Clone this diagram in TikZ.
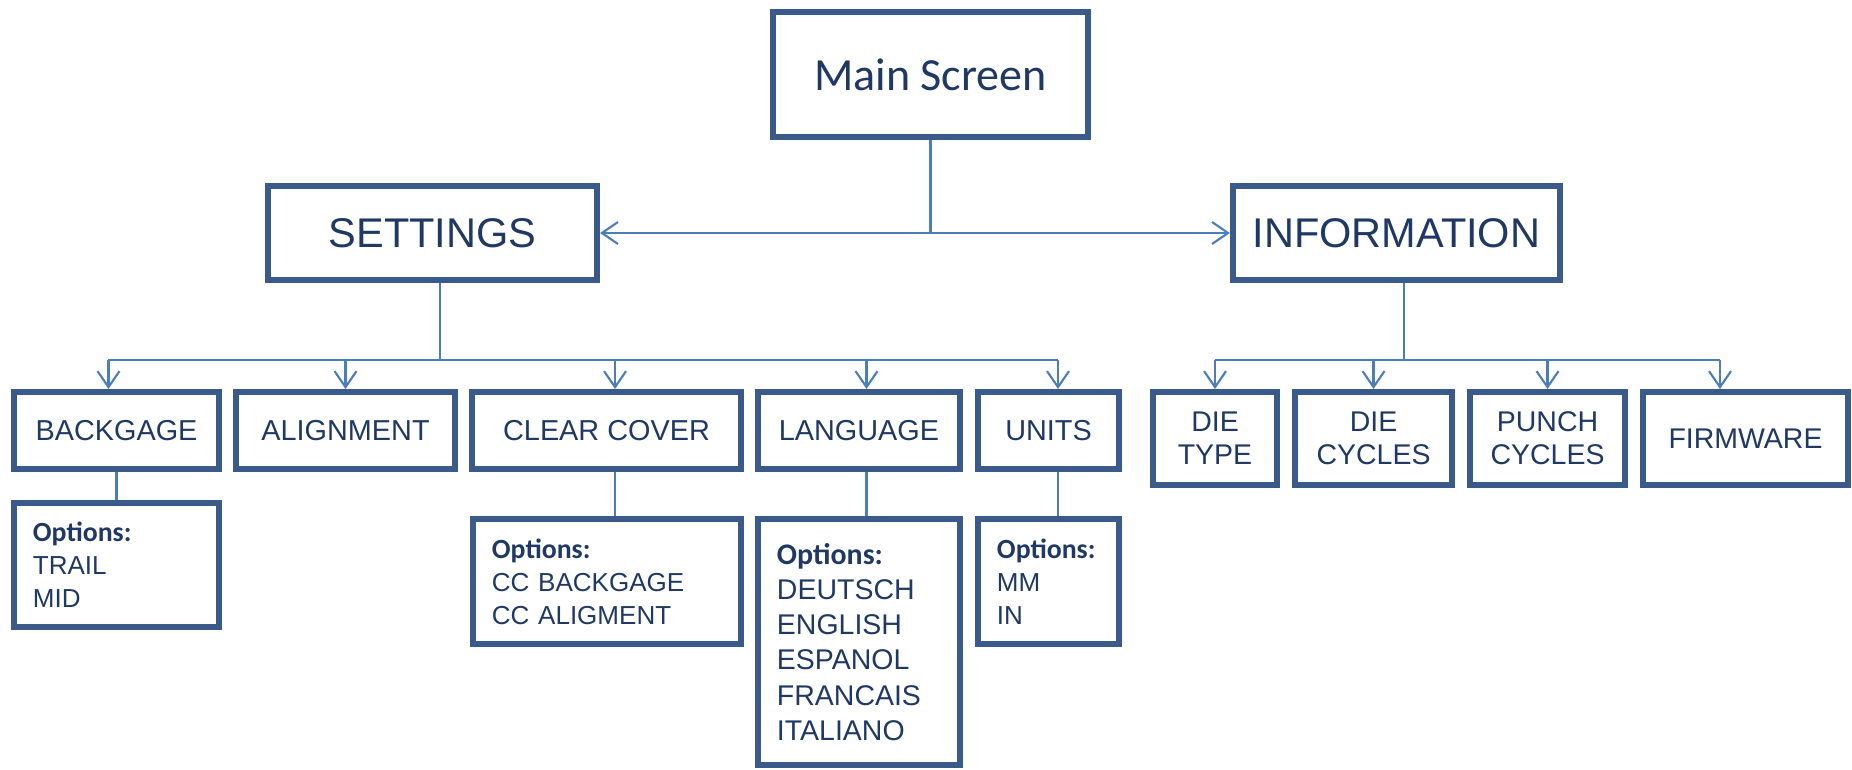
\documentclass[tikz,border=0pt]{standalone}
\usepackage{fontspec}
\setmainfont{Liberation Sans}
\newfontfamily\calibri{Carlito}
\usetikzlibrary{arrows.meta}

\definecolor{boxblue}{RGB}{58,90,138}
\definecolor{inkblue}{RGB}{31,56,100}
\definecolor{lineblue}{RGB}{74,126,187}

\tikzset{
  menu/.style={draw=boxblue, line width=0.06cm, inner sep=0pt, text=inkblue, align=center},
  head/.style={menu, minimum height=0.94cm, font=\fontsize{11.8}{14}\selectfont},
  sub/.style={menu, minimum height=0.77cm, font=\fontsize{8.2}{9.8}\selectfont},
  info/.style={menu, minimum height=0.93cm, font=\fontsize{8.1}{9.4}\selectfont},
  optbox/.style={menu, align=left, inner xsep=0.19cm, font=\fontsize{7.4}{9.4}\selectfont},
  link/.style={draw=lineblue, line width=0.6pt},
  arr/.style={link, -{Straight Barb[length=1.6mm,width=2.2mm]}},
  both/.style={link, {Straight Barb[length=1.6mm,width=2.2mm]}-{Straight Barb[length=1.6mm,width=2.2mm]}}
}
\newcommand{\opthead}{{\calibri\bfseries\fontsize{7.9}{9.4}\selectfont Options:}}

\begin{document}
\begin{tikzpicture}[x=0.01cm, y=-0.01cm]
  \useasboundingbox (0,0) rectangle (1852,770);

  % Top level
  \node[menu, minimum width=3.15cm, minimum height=1.25cm, font=\calibri\fontsize{13.1}{15}\selectfont] (main) at (930.5,74.5) {Main Screen};
  \node[head, minimum width=3.29cm] (settings) at (432.5,233) {SETTINGS};
  \node[head, minimum width=3.27cm] (information) at (1396.5,233) {INFORMATION};

  % Settings menu
  \node[sub, minimum width=2.05cm] (backgage) at (116.5,430.5) {BACKGAGE};
  \node[sub, minimum width=2.19cm] (alignment) at (345.5,430.5) {ALIGNMENT};
  \node[sub, minimum width=2.69cm] (clearcover) at (606.5,430.5) {CLEAR COVER};
  \node[sub, minimum width=2.02cm] (language) at (859,430.5) {LANGUAGE};
  \node[sub, minimum width=1.41cm] (units) at (1048.5,430.5) {UNITS};

  % Information menu
  \node[info, minimum width=1.24cm] (dietype) at (1215,438.5) {DIE\\TYPE};
  \node[info, minimum width=1.57cm] (diecycles) at (1373.5,438.5) {DIE\\CYCLES};
  \node[info, minimum width=1.55cm] (punchcycles) at (1547.5,438.5) {PUNCH\\CYCLES};
  \node[info, minimum width=2.05cm] (firmware) at (1745.5,438.5) {FIRMWARE};

  % Option lists
  \node[optbox, minimum height=1.24cm, text width=1.67cm] (backopt) at (116.5,565) {\opthead\\TRAIL\\MID};
  \node[optbox, minimum height=1.25cm, text width=2.30cm] (coveropt) at (607,581.5) {\opthead\\CC BACKGAGE\\CC ALIGMENT};
  \node[optbox, minimum height=2.46cm, text width=1.64cm, font=\fontsize{8.1}{10}\selectfont] (langopt) at (859,642)
    {{\calibri\bfseries\fontsize{8.5}{10}\selectfont Options:}\\DEUTSCH\\ENGLISH\\ESPANOL\\FRANCAIS\\ITALIANO};
  \node[optbox, minimum height=1.25cm, text width=1.03cm] (unitopt) at (1048.5,581.5) {\opthead\\MM\\IN};

  % Main screen to both branches
  \draw[link] (main.south) -- (main.south |- settings.east);
  \draw[both] (settings.east) -- (information.west);

  % Settings bus
  \coordinate (sbus) at (440,360);
  \foreach \n/\dx in {backgage/-0.08,alignment/0,clearcover/0.085,language/0.075,units/0.095}
    \path ([xshift=\dx cm]\n.north) coordinate (\n-in);
  \draw[link] (settings.south -| sbus) -- (sbus);
  \draw[link] (backgage-in |- sbus) -- (units-in |- sbus);
  \foreach \n in {backgage,alignment,clearcover,language,units}
    \draw[arr] (\n-in |- sbus) -- (\n-in);

  % Information bus
  \coordinate (ibus) at (1404,360);
  \foreach \n/\dx in {dietype/0,diecycles/0,punchcycles/0,firmware/-0.255}
    \path ([xshift=\dx cm]\n.north) coordinate (\n-in);
  \draw[link] (information.south -| ibus) -- (ibus);
  \draw[link] (dietype-in |- ibus) -- (firmware-in |- ibus);
  \foreach \n in {dietype,diecycles,punchcycles,firmware}
    \draw[arr] (\n-in |- ibus) -- (\n-in);

  % Menus to their options
  \draw[link] (backgage.south) -- (backopt.north);
  \draw[link] (clearcover.south -| clearcover-in) -- (coveropt.north -| clearcover-in);
  \draw[link] (language.south -| language-in) -- (langopt.north -| language-in);
  \draw[link] (units.south -| units-in) -- (unitopt.north -| units-in);
\end{tikzpicture}
\end{document}
